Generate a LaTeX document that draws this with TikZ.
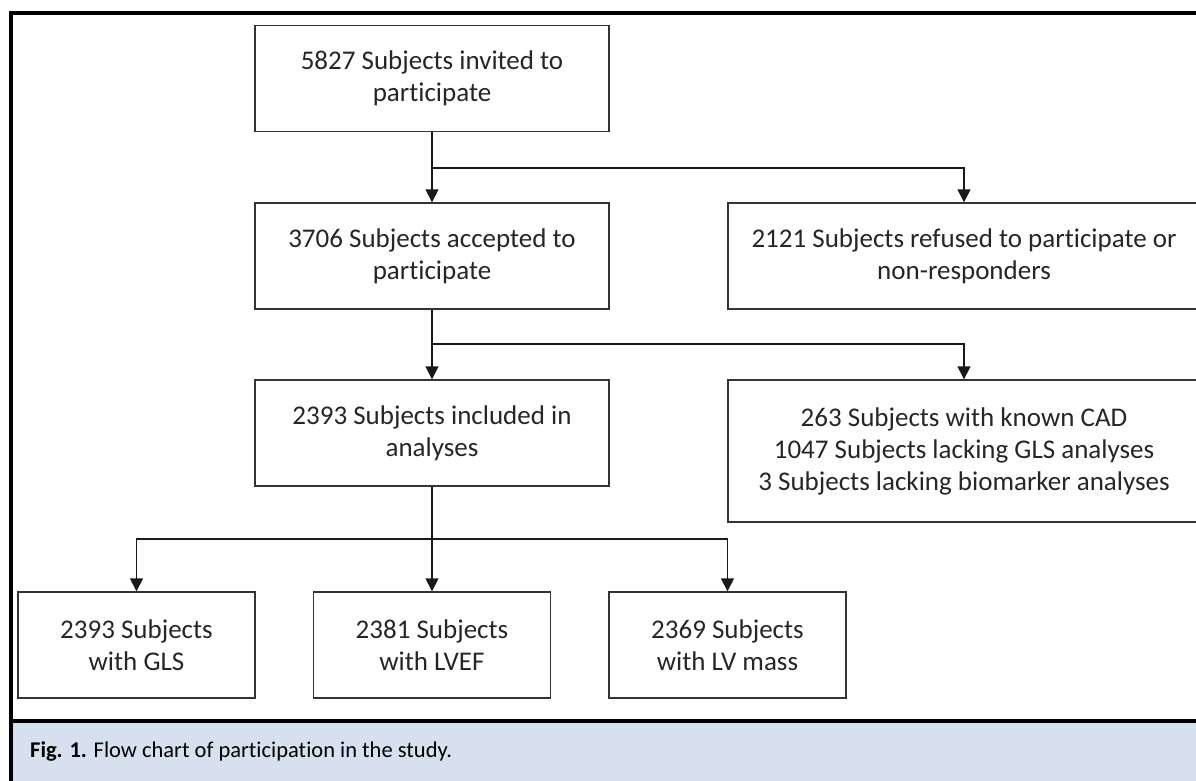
\documentclass[tikz,border=0pt]{standalone}
\usepackage{fontspec}
\setmainfont{Carlito}[Ligatures=NoCommon]
\usepackage{xcolor}
\usetikzlibrary{arrows.meta,positioning}
\definecolor{capblue}{HTML}{D7E0EF}
\definecolor{boxline}{HTML}{333333}
\definecolor{boxtext}{HTML}{262626}

\begin{document}
\begin{tikzpicture}[x=1pt, y=-1pt,
    box/.style={draw=boxline, line width=1.4pt, fill=white, inner sep=0pt, minimum width=354pt, minimum height=106pt, align=center, text=boxtext, font=\fontsize{27}{32}\selectfont},
    smallbox/.style={box, minimum width=237pt},
    widebox/.style={box, minimum width=472pt},
    flow/.style={draw=black!90, line width=1.5pt, -{Triangle[width=13pt,length=13pt]}},
    frame/.style={line width=4pt},
    caption/.style={anchor=west, inner sep=0pt, font=\fontsize{22.5}{26}\selectfont}
]
\clip (0,0) rectangle (1196,781);
\fill[white] (0,0) rectangle (1196,781);
\fill[capblue] (11,721) rectangle (1200,781);
\draw[frame] (11,785) -- (11,13) -- (1200,13);
\draw[frame] (11,721) -- (1200,721);
\node[box] (invited) at (432,78.5) {5827 Subjects invited to\\participate};
\node[box] (accepted) at (432,256) {3706 Subjects accepted to\\participate};
\node[widebox] (refused) at (964,256) {2121 Subjects refused to participate or\\non-responders};
\node[box] (included) at (432,433) {2393 Subjects included in\\analyses};
\node[widebox, minimum height=142pt] (excluded) at (964,451) {263 Subjects with known CAD\\1047 Subjects lacking GLS analyses\\3 Subjects lacking biomarker analyses};
\node[smallbox] (gls) at (136.5,645) {2393 Subjects\\with GLS};
\node[smallbox] (lvef) at (432,645) {2381 Subjects\\with LVEF};
\node[smallbox] (lvmass) at (727.5,645) {2369 Subjects\\with LV mass};
\coordinate (split1) at (432,168);
\coordinate (split2) at (432,344);
\coordinate (split3) at (432,539);
\draw[flow] (invited) -- (accepted);
\draw[flow] (split1) -| (refused);
\draw[flow] (accepted) -- (included);
\draw[flow] (split2) -| (excluded);
\draw[flow] (included) -- (lvef);
\draw[flow] (split3) -| (gls);
\draw[flow] (split3) -| (lvmass);
\node[caption] (cap) at (30,752) {\textbf{Fig. 1.} Flow chart of participation in the study.};
\end{tikzpicture}
\end{document}
